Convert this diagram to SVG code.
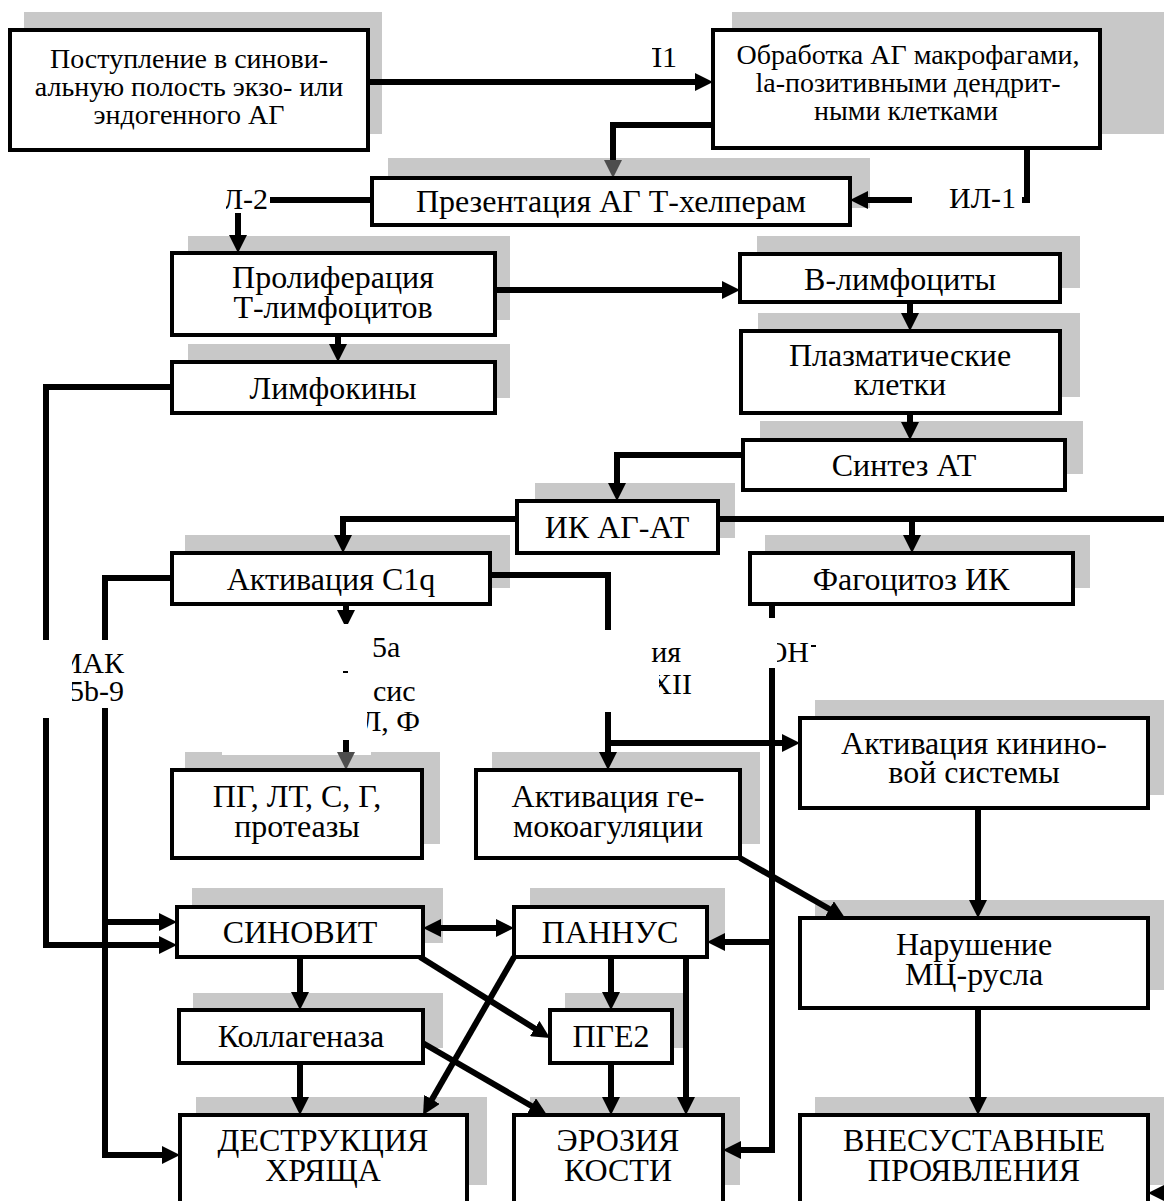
<svg xmlns="http://www.w3.org/2000/svg" width="1164" height="1201" viewBox="0 0 1164 1201" font-family="Liberation Serif, Times New Roman, serif">
<style>
.sh{fill:#c8c8c8}
.bx{fill:#fff;stroke:#000;stroke-width:4}
.t{font-family:'Liberation Serif','Times New Roman',serif;font-size:32px;fill:#000;text-anchor:middle}
.t28{font-size:28px}
.ts{font-family:'Liberation Serif','Times New Roman',serif;font-size:30px;fill:#000}
.c{fill:none;stroke:#000;stroke-width:6}
.lb{fill:#fff}
</style>
<defs>
<marker id="ah" markerUnits="userSpaceOnUse" markerWidth="20" markerHeight="18" refX="10" refY="9" orient="auto-start-reverse" viewBox="0 0 20 18"><path d="M0,0 L18,9 L0,18 z" fill="#000"/></marker>
<marker id="ahg" markerUnits="userSpaceOnUse" markerWidth="20" markerHeight="18" refX="10" refY="9" orient="auto" viewBox="0 0 20 18"><path d="M0,0 L18,9 L0,18 z" fill="#4d4d4d"/></marker>
<clipPath id="cpL1"><rect x="652" y="30" width="60" height="50"/></clipPath>
<clipPath id="cpIL2"><rect x="226" y="180" width="50" height="40"/></clipPath>
<clipPath id="cpMAK"><rect x="72" y="640" width="80" height="70"/></clipPath>
<clipPath id="cpLF"><rect x="367" y="630" width="60" height="110"/></clipPath>
<clipPath id="cpXII"><rect x="640" y="630" width="60" height="38"/><rect x="659" y="668" width="50" height="36"/></clipPath>
<clipPath id="cpOH"><rect x="777" y="630" width="50" height="40"/></clipPath>
</defs>
<rect width="1164" height="1201" fill="#fff"/>

<g id="shadows">
<rect class="sh" x="24" y="12" width="358" height="122"/>
<rect class="sh" x="732" y="12" width="432" height="122"/>
<rect class="sh" x="388" y="158" width="482" height="50"/>
<rect class="sh" x="188" y="236" width="322" height="84"/>
<rect class="sh" x="188" y="344" width="322" height="54"/>
<rect class="sh" x="757" y="236" width="323" height="52"/>
<rect class="sh" x="758" y="313" width="322" height="84"/>
<rect class="sh" x="760" y="421" width="323" height="53"/>
<rect class="sh" x="535" y="483" width="200" height="55"/>
<rect class="sh" x="185" y="535" width="325" height="53"/>
<rect class="sh" x="765" y="535" width="325" height="53"/>
<rect class="sh" x="185" y="752" width="255" height="92"/>
<rect class="sh" x="492" y="752" width="268" height="92"/>
<rect class="sh" x="815" y="700" width="349" height="95"/>
<rect class="sh" x="192" y="888" width="251" height="55"/>
<rect class="sh" x="530" y="888" width="195" height="55"/>
<rect class="sh" x="815" y="900" width="349" height="90"/>
<rect class="sh" x="193" y="993" width="250" height="55"/>
<rect class="sh" x="565" y="993" width="120" height="55"/>
<rect class="sh" x="196" y="1097" width="291" height="88"/>
<rect class="sh" x="530" y="1097" width="210" height="88"/>
<rect class="sh" x="815" y="1097" width="349" height="88"/>
</g>

<g id="connectors">
<path class="c" d="M368,82 H705" marker-end="url(#ah)"/>
<path class="c" d="M713,125 H613 V170" marker-end="url(#ahg)"/>
<path class="c" d="M1027,148 V200 H858" marker-end="url(#ah)"/>
<path class="c" d="M372,200 H238 V245" marker-end="url(#ah)"/>
<path class="c" d="M495,290 H732" marker-end="url(#ah)"/>
<path class="c" d="M338,335 V354" marker-end="url(#ah)"/>
<path class="c" d="M910,302 V323" marker-end="url(#ah)"/>
<path class="c" d="M910,413 V432" marker-end="url(#ah)"/>
<path class="c" d="M743,455 H617 V493" marker-end="url(#ah)"/>
<path class="c" d="M517,519 H343 V545" marker-end="url(#ah)"/>
<path class="c" d="M718,519 H1164"/>
<path class="c" d="M912,519 V545" marker-end="url(#ah)"/>
<path class="c" d="M172,387 H46 V945 H169" marker-end="url(#ah)"/>
<path class="c" d="M172,578 H105 V1155 H172" marker-end="url(#ah)"/>
<path class="c" d="M105,922 H169" marker-end="url(#ah)"/>
<path class="c" d="M346,604 V620" marker-end="url(#ah)"/>
<path class="c" d="M490,575 H608 V762" marker-end="url(#ah)"/>
<path class="c" d="M608,743 H792" marker-end="url(#ah)"/>
<path class="c" d="M772,604 V1150 H731" marker-end="url(#ah)"/>
<path class="c" d="M772,942 H715" marker-end="url(#ah)"/>
<path class="c" d="M978,808 V910" marker-end="url(#ah)"/>
<path class="c" d="M740,858 L838.1,914" marker-end="url(#ah)"/>
<path class="c" d="M978,1008 V1107" marker-end="url(#ah)"/>
<path class="c" d="M1170,1193 H1156" marker-end="url(#ah)"/>
<path class="c" d="M431,928 H506" marker-start="url(#ah)" marker-end="url(#ah)"/>
<path class="c" d="M300,957 V1002" marker-end="url(#ah)"/>
<path class="c" d="M420,957 L543.2,1033.8" marker-end="url(#ah)"/>
<path class="c" d="M514,957 L427,1108.1" marker-end="url(#ah)"/>
<path class="c" d="M611,957 V1002" marker-end="url(#ah)"/>
<path class="c" d="M686,957 V1107" marker-end="url(#ah)"/>
<path class="c" d="M611,1063 V1107" marker-end="url(#ah)"/>
<path class="c" d="M300,1063 V1107" marker-end="url(#ah)"/>
<path class="c" d="M421,1042 L540.1,1111" marker-end="url(#ah)"/>
</g>

<g id="labels">
<text class="ts" x="677" y="67" text-anchor="end" clip-path="url(#cpL1)">Л1</text>
<g id="lbl-il1"><rect class="lb" x="912" y="185" width="110" height="28"/><text class="ts" x="1016" y="208" text-anchor="end">ИЛ-1</text></g>
<g id="lbl-il2"><rect class="lb" x="180" y="185" width="90" height="28"/><text class="ts" x="268" y="209" text-anchor="end" clip-path="url(#cpIL2)">ИЛ-2</text></g>
<g id="lbl-mak"><rect class="lb" x="38" y="640" width="112" height="68"/><rect class="lb" x="40" y="700" width="12" height="18"/>
<text class="ts" text-anchor="end" clip-path="url(#cpMAK)"><tspan x="124" y="673">МАК</tspan><tspan x="124" y="701">5b-9</tspan></text></g>
<g id="lbl-c5a"><rect class="lb" x="222" y="624" width="149" height="131"/>
<rect x="343" y="671" width="5" height="2" fill="#000"/>
<text class="ts" clip-path="url(#cpLF)"><tspan x="372" y="657">5а</tspan><tspan x="373" y="701">сис</tspan><tspan x="361" y="731">Л, Ф</tspan></text></g>
<g id="lbl-xii"><rect class="lb" x="560" y="630" width="92" height="82"/>
<text class="ts" text-anchor="end" clip-path="url(#cpXII)"><tspan x="681" y="662">ия</tspan><tspan x="692" y="694">XII</tspan></text></g>
<g id="lbl-oh"><rect class="lb" x="730" y="618" width="46" height="50"/>
<text class="ts" x="809" y="662" text-anchor="end" clip-path="url(#cpOH)">ОН</text>
<rect x="811" y="645" width="5" height="2" fill="#000"/></g>
<path class="c" d="M346,740 V762" marker-end="url(#ahg)"/>
</g>

<g id="n1"><rect class="bx" x="10" y="30" width="358" height="120"/>
<text class="t t28"><tspan x="189" y="68">Поступление в синови-</tspan><tspan x="189" y="96">альную полость экзо- или</tspan><tspan x="189" y="124">эндогенного АГ</tspan></text></g>
<g id="n2"><rect class="bx" x="713" y="30" width="387" height="118"/>
<text class="t t28"><tspan x="908" y="64">Обработка АГ макрофагами,</tspan><tspan x="908" y="92">la-позитивными дендрит-</tspan><tspan x="906" y="120">ными клетками</tspan></text></g>
<g id="n3"><rect class="bx" x="372" y="178" width="478" height="47"/>
<text class="t" x="611" y="212">Презентация АГ Т-хелперам</text></g>
<g id="n4"><rect class="bx" x="172" y="253" width="323" height="82"/>
<text class="t"><tspan x="333" y="288">Пролиферация</tspan><tspan x="333" y="318">Т-лимфоцитов</tspan></text></g>
<g id="n5"><rect class="bx" x="172" y="362" width="323" height="51"/>
<text class="t" x="333" y="399">Лимфокины</text></g>
<g id="n6"><rect class="bx" x="740" y="254" width="320" height="48"/>
<text class="t" x="900" y="290">В-лимфоциты</text></g>
<g id="n7"><rect class="bx" x="741" y="331" width="319" height="82"/>
<text class="t"><tspan x="900" y="366">Плазматические</tspan><tspan x="900" y="395">клетки</tspan></text></g>
<g id="n8"><rect class="bx" x="743" y="440" width="322" height="50"/>
<text class="t" x="904" y="476">Синтез АТ</text></g>
<g id="n9"><rect class="bx" x="517" y="501" width="201" height="52"/>
<text class="t" x="617" y="538">ИК АГ-АТ</text></g>
<g id="n10"><rect class="bx" x="172" y="553" width="318" height="51"/>
<text class="t" x="331" y="590">Активация C1q</text></g>
<g id="n11"><rect class="bx" x="750" y="553" width="323" height="51"/>
<text class="t" x="911" y="590">Фагоцитоз ИК</text></g>
<g id="n12"><rect class="bx" x="172" y="770" width="250" height="88"/>
<text class="t"><tspan x="297" y="807">ПГ, ЛТ, С, Г,</tspan><tspan x="297" y="837">протеазы</tspan></text></g>
<g id="n13"><rect class="bx" x="476" y="770" width="264" height="88"/>
<text class="t"><tspan x="608" y="807">Активация ге-</tspan><tspan x="608" y="837">мокоагуляции</tspan></text></g>
<g id="n14"><rect class="bx" x="800" y="718" width="348" height="90"/>
<text class="t"><tspan x="974" y="754">Активация кинино-</tspan><tspan x="974" y="783">вой системы</tspan></text></g>
<g id="n15"><rect class="bx" x="177" y="907" width="246" height="50"/>
<text class="t" x="300" y="943">СИНОВИТ</text></g>
<g id="n16"><rect class="bx" x="514" y="907" width="193" height="50"/>
<text class="t" x="610" y="943">ПАННУС</text></g>
<g id="n17"><rect class="bx" x="800" y="918" width="348" height="90"/>
<text class="t"><tspan x="974" y="955">Нарушение</tspan><tspan x="974" y="985">МЦ-русла</tspan></text></g>
<g id="n18"><rect class="bx" x="179" y="1010" width="244" height="53"/>
<text class="t" x="301" y="1047">Коллагеназа</text></g>
<g id="n19"><rect class="bx" x="550" y="1010" width="122" height="53"/>
<text class="t" x="611" y="1047">ПГЕ2</text></g>
<g id="n20"><rect class="bx" x="180" y="1115" width="287" height="100"/>
<text class="t"><tspan x="323" y="1151">ДЕСТРУКЦИЯ</tspan><tspan x="323" y="1181">ХРЯЩА</tspan></text></g>
<g id="n21"><rect class="bx" x="514" y="1115" width="209" height="100"/>
<text class="t"><tspan x="618" y="1151">ЭРОЗИЯ</tspan><tspan x="618" y="1181">КОСТИ</tspan></text></g>
<g id="n22"><rect class="bx" x="800" y="1115" width="348" height="100"/>
<text class="t"><tspan x="974" y="1151">ВНЕСУСТАВНЫЕ</tspan><tspan x="974" y="1181">ПРОЯВЛЕНИЯ</tspan></text></g>
</svg>
